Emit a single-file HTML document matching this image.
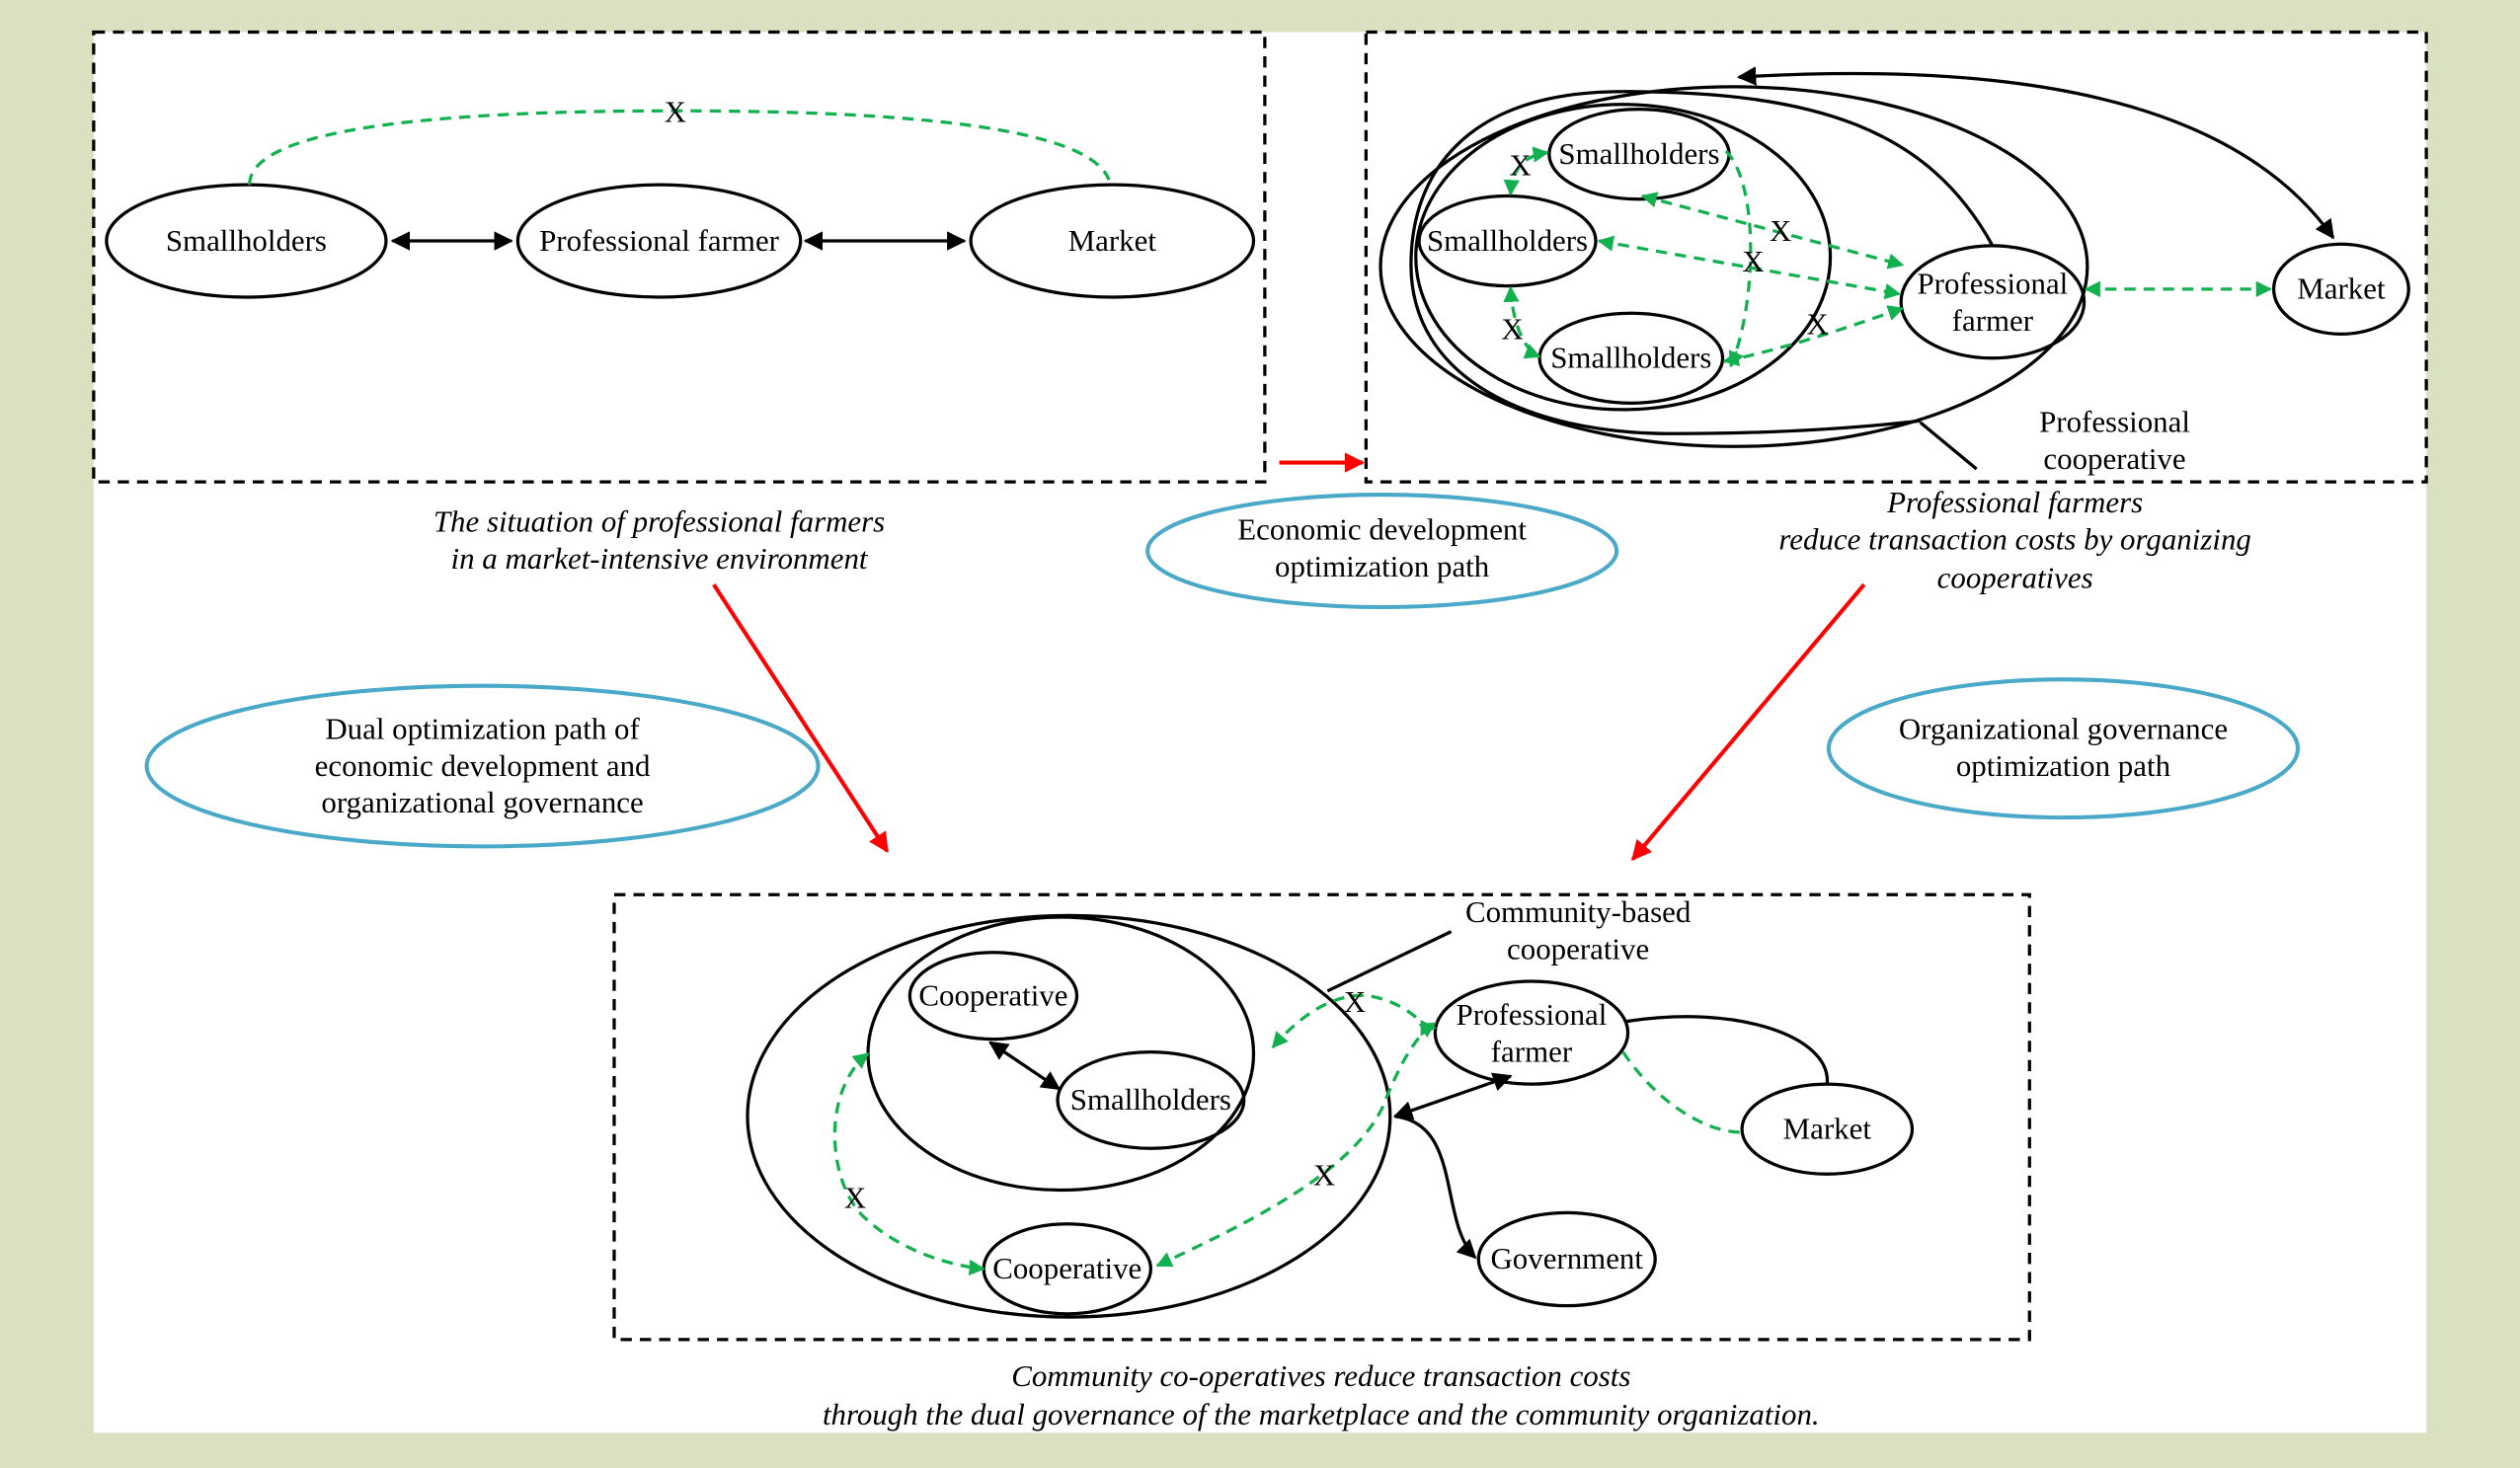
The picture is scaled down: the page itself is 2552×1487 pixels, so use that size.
<!DOCTYPE html>
<html><head><meta charset="utf-8"><style>
html,body{margin:0;padding:0;background:#dae1c1}
svg{display:block}
text{font-family:"Liberation Serif",serif;font-size:19px;fill:#000}
.i{font-style:italic}
</style></head><body>
<svg width="2552" height="1487" viewBox="0 0 1568 914" xmlns="http://www.w3.org/2000/svg">
<defs>
<marker id="ab" viewBox="0 0 10 10" refX="9" refY="5" markerWidth="6" markerHeight="6" orient="auto-start-reverse"><path d="M0,0L10,5L0,10z" fill="#000"/></marker>
<marker id="ag" viewBox="0 0 10 10" refX="9" refY="5" markerWidth="5" markerHeight="5" orient="auto-start-reverse"><path d="M0,0L10,5L0,10z" fill="#13b04f"/></marker>
<marker id="ar" viewBox="0 0 10 10" refX="9" refY="5" markerWidth="5" markerHeight="5" orient="auto"><path d="M0,0L10,5L0,10z" fill="#f00"/></marker>
</defs>
<rect x="0" y="0" width="1568" height="914" fill="#dae1c1"/>
<rect x="58" y="20" width="1452" height="872" fill="#fff"/>
<g fill="none" stroke="#000" stroke-width="2">
<rect x="58" y="20" width="729" height="280" stroke-dasharray="7,5"/>
<rect x="850" y="20" width="660" height="280" stroke-dasharray="7,5"/>
<rect x="382" y="557" width="881" height="277" stroke-dasharray="7,5"/>
<!-- top-left -->
<ellipse cx="153" cy="150" rx="87" ry="35"/>
<ellipse cx="410" cy="150" rx="88" ry="35"/>
<ellipse cx="692" cy="150" rx="88" ry="35"/>
<line x1="244" y1="150" x2="318" y2="150" marker-start="url(#ab)" marker-end="url(#ab)"/>
<line x1="501" y1="150" x2="600" y2="150" marker-start="url(#ab)" marker-end="url(#ab)"/>
<!-- top-right -->
<ellipse cx="1079" cy="166" rx="220" ry="112"/>
<ellipse cx="1010" cy="160" rx="129" ry="95"/>
<ellipse cx="1020" cy="96" rx="56" ry="28"/>
<ellipse cx="938" cy="150" rx="55" ry="28"/>
<ellipse cx="1015" cy="223" rx="57" ry="28"/>
<ellipse cx="1240" cy="188" rx="57" ry="35"/>
<ellipse cx="1457" cy="180" rx="42" ry="28"/>
<path d="M1240,153 C1200,80 1130,57 1010,57 C910,57 878,110 878,165 C878,235 950,270 1040,270 C1110,270 1160,266 1195,262"/>
<path d="M1082,48 C1250,38 1390,60 1452,148" marker-start="url(#ab)" marker-end="url(#ab)"/>
<line x1="1195" y1="263" x2="1230" y2="292"/>
<!-- bottom -->
<ellipse cx="665" cy="695" rx="200" ry="125"/>
<ellipse cx="660" cy="656" rx="120" ry="85"/>
<ellipse cx="618" cy="620" rx="52" ry="27"/>
<ellipse cx="716" cy="685" rx="58" ry="30"/>
<ellipse cx="664" cy="790" rx="52" ry="28"/>
<ellipse cx="953" cy="643" rx="60" ry="32"/>
<ellipse cx="1137" cy="703" rx="53" ry="28"/>
<ellipse cx="975" cy="784" rx="55" ry="29"/>
<line x1="826" y1="617" x2="903" y2="580"/>
<line x1="616" y1="649" x2="659" y2="678" marker-start="url(#ab)" marker-end="url(#ab)"/>
<line x1="868" y1="695" x2="940" y2="670" marker-start="url(#ab)" marker-end="url(#ab)"/>
<path d="M868,695 C910,700 895,760 918,783" marker-end="url(#ab)"/>
<path d="M1012,636 C1080,625 1140,645 1137,675"/>
<!-- blue -->
<g stroke="#4aa8c8" stroke-width="2.5">
<ellipse cx="860" cy="343" rx="146" ry="35"/>
<ellipse cx="300" cy="477" rx="209" ry="50"/>
<ellipse cx="1284" cy="466" rx="146" ry="43"/>
</g>
</g>
<!-- green dashed -->
<g fill="none" stroke="#13b04f" stroke-width="2" stroke-dasharray="7,5">
<path d="M155,115 C155,85 240,69 420,69 C600,69 680,85 690,112"/>
<path d="M940,121 C941,105 948,97 963,95" marker-start="url(#ag)" marker-end="url(#ag)"/>
<path d="M940,179 C941,200 948,218 958,222" marker-start="url(#ag)" marker-end="url(#ag)"/>
<path d="M1074,94 C1095,115 1093,190 1077,228" marker-end="url(#ag)"/>
<line x1="1022" y1="122" x2="1184" y2="165" marker-start="url(#ag)" marker-end="url(#ag)"/>
<line x1="995" y1="150" x2="1182" y2="183" marker-start="url(#ag)" marker-end="url(#ag)"/>
<path d="M1073,225 C1120,215 1160,200 1184,192" marker-start="url(#ag)" marker-end="url(#ag)"/>
<line x1="1298" y1="180" x2="1413" y2="180" marker-start="url(#ag)" marker-end="url(#ag)"/>
<path d="M792,652 C815,625 840,615 860,622 C880,628 885,640 893,640" marker-start="url(#ag)" marker-end="url(#ag)"/>
<path d="M540,656 C510,680 515,740 540,760 C560,778 590,788 612,790" marker-start="url(#ag)" marker-end="url(#ag)"/>
<path d="M720,788 C780,760 840,730 860,690 C870,665 880,645 893,637" marker-start="url(#ag)" marker-end="url(#ag)"/>
<path d="M1010,655 C1030,685 1060,705 1084,705"/>
</g>
<!-- red -->
<g stroke="#f00" stroke-width="2.5" fill="none">
<line x1="796" y1="288" x2="848" y2="288" marker-end="url(#ar)"/>
<line x1="444" y1="364" x2="552" y2="530" marker-end="url(#ar)"/>
<line x1="1160" y1="364" x2="1016" y2="535" marker-end="url(#ar)"/>
</g>
<!-- labels -->
<g text-anchor="middle">
<text x="153" y="156">Smallholders</text>
<text x="410" y="156">Professional farmer</text>
<text x="692" y="156">Market</text>
<text x="420" y="76">X</text>
<text x="1020" y="102">Smallholders</text>
<text x="938" y="156">Smallholders</text>
<text x="1015" y="229">Smallholders</text>
<text x="1240" y="183">Professional</text>
<text x="1240" y="206">farmer</text>
<text x="1457" y="186">Market</text>
<text x="946" y="109">X</text>
<text x="941" y="211">X</text>
<text x="1108" y="150">X</text>
<text x="1091" y="169">X</text>
<text x="1131" y="208">X</text>
<text x="1316" y="269">Professional</text>
<text x="1316" y="292">cooperative</text>
<text x="618" y="626">Cooperative</text>
<text x="716" y="691">Smallholders</text>
<text x="664" y="796">Cooperative</text>
<text x="953" y="638">Professional</text>
<text x="953" y="661">farmer</text>
<text x="1137" y="709">Market</text>
<text x="975" y="790">Government</text>
<text x="982" y="574">Community-based</text>
<text x="982" y="597">cooperative</text>
<text x="843" y="630">X</text>
<text x="532" y="752">X</text>
<text x="824" y="738">X</text>
<text x="860" y="336">Economic development</text>
<text x="860" y="359">optimization path</text>
<text x="300" y="460">Dual optimization path of</text>
<text x="300" y="483">economic development and</text>
<text x="300" y="506">organizational governance</text>
<text x="1284" y="460">Organizational governance</text>
<text x="1284" y="483">optimization path</text>
<text class="i" x="410" y="331">The situation of professional farmers</text>
<text class="i" x="410" y="354">in a market-intensive environment</text>
<text class="i" x="1254" y="319">Professional farmers</text>
<text class="i" x="1254" y="342">reduce transaction costs by organizing</text>
<text class="i" x="1254" y="366">cooperatives</text>
<text class="i" x="822" y="863">Community co-operatives reduce transaction costs</text>
<text class="i" x="822" y="887">through the dual governance of the marketplace and the community organization.</text>
</g>
</svg>
</body></html>
